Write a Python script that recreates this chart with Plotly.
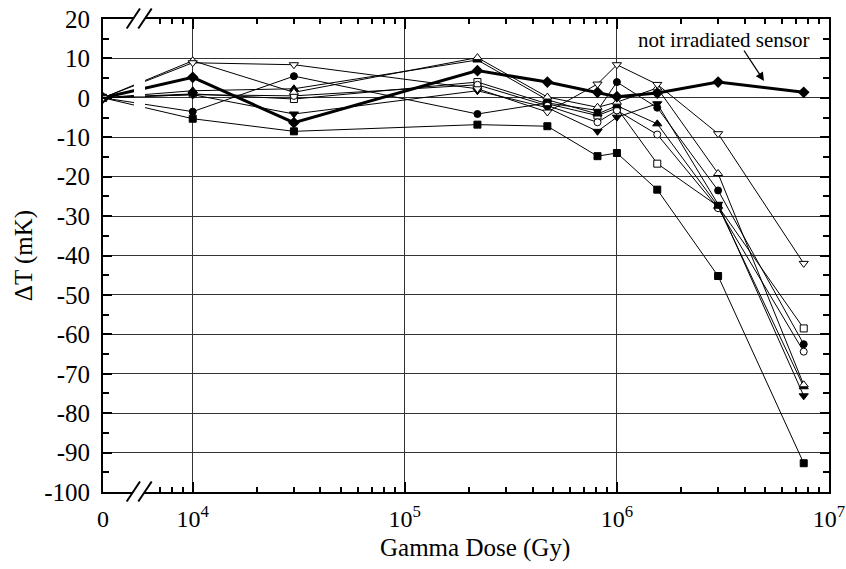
import plotly.graph_objects as go

# ---------------- data ----------------
doses = [0, 1e4, 3e4, 2.2e5, 4.7e5, 8.1e5, 1e6, 1.55e6, 3e6, 7.6e6]

s_sq_filled   = [0, -5.3, -8.5, -6.8, -7.2, -14.8, -14.0, -23.3, -45.2, -92.7]
s_sq_open     = [0, 1.0, -0.3, 4.0, -1.5, -4.5, -2.6, -16.7, -27.5, -58.5]
s_ci_filled   = [0, -3.5, 5.5, -4.1, -1.3, -3.2, 4.0, -2.5, -23.5, -62.5]
s_ci_open     = [0, 0.8, 0.5, 3.3, -2.0, -6.2, -3.2, -9.3, -28.0, -64.4]
s_up_filled   = [0, 1.8, 2.3, 9.6, -0.5, -4.1, -2.0, -6.6, -27.5, -73.3]
s_up_open     = [0, 9.4, 1.4, 10.2, 0.2, -2.4, -1.1, 2.5, -19.2, -72.8]
s_dn_filled   = [0, 0.8, -4.1, 1.8, -2.5, -8.5, -4.9, -1.5, -27.0, -75.6]
s_dn_open     = [0, 8.9, 8.4, 2.3, -3.6, 3.5, 8.4, 3.4, -9.1, -42.0]
s_reference   = [0, 5.2, -6.3, 6.9, 4.0, 1.4, 0.3, 1.2, 4.0, 1.4]

x_tick_labels = ["0", "10<sup>4</sup>", "10<sup>5</sup>", "10<sup>6</sup>", "10<sup>7</sup>"]
x_tick_doses = [0, 1e4, 1e5, 1e6, 1e7]
y_tick_values = [20, 10, 0, -10, -20, -30, -40, -50, -60, -70, -80, -90, -100]
y_tick_labels = ["20", "10", "0", "-10", "-20", "-30", "-40", "-50", "-60",
                 "-70", "-80", "-90", "-100"]

# axis position used to draw dose "0" left of the axis break
ZERO_POS = 10 ** 3.577
LOG_MAX = 7.0

def xpos(d):
    return ZERO_POS if d == 0 else d

X = [xpos(d) for d in doses]

FONT = "Liberation Serif"
fig = go.Figure()

series = [
    (s_sq_filled, "square", "black"),
    (s_sq_open, "square", "white"),
    (s_ci_filled, "circle", "black"),
    (s_ci_open, "circle", "white"),
    (s_up_filled, "triangle-up", "black"),
    (s_up_open, "triangle-up", "white"),
    (s_dn_filled, "triangle-down", "black"),
]
for vals, sym, fill in series:
    size = 8 if "triangle" in sym else 7
    fig.add_trace(go.Scatter(
        x=X, y=vals, mode="lines+markers",
        line=dict(color="black", width=1),
        marker=dict(symbol=sym, size=size, color=fill,
                    line=dict(color="black", width=1)),
        showlegend=False,
    ))

fig.add_trace(go.Scatter(
    x=X, y=s_reference, mode="lines+markers",
    line=dict(color="black", width=3),
    marker=dict(symbol="diamond", size=9, color="black"),
    showlegend=False,
))
fig.add_trace(go.Scatter(
    x=X, y=s_dn_open, mode="lines+markers",
    line=dict(color="black", width=1),
    marker=dict(symbol="triangle-down", size=8, color="white",
                line=dict(color="black", width=1)),
    showlegend=False,
))

minor_vals = [m * 10 ** e for e in range(3, 7) for m in range(2, 10)
              if m * 10 ** e > 6.5e3]

fig.update_xaxes(
    type="log",
    range=[3.577, LOG_MAX],
    automargin=False,
    tickmode="array",
    tickvals=[xpos(d) for d in x_tick_doses],
    ticktext=x_tick_labels,
    ticks="inside", ticklen=10, tickwidth=1.5, tickcolor="black",
    showline=True, linecolor="black", linewidth=2, mirror="allticks",
    showgrid=True, gridcolor="#333", gridwidth=1,
    minor=dict(tickmode="array", tickvals=minor_vals, ticks="inside",
               ticklen=5, tickwidth=1.5, tickcolor="black", showgrid=False),
    tickfont=dict(family=FONT, size=24, color="black"),
    ticklabelstandoff=4,
    zeroline=False,
)
fig.update_yaxes(
    range=[-100, 20],
    automargin=False,
    tickmode="array", tickvals=y_tick_values, ticktext=y_tick_labels,
    ticks="inside", ticklen=9, tickwidth=1.5, tickcolor="black",
    showline=True, linecolor="black", linewidth=2, mirror="allticks",
    showgrid=True, gridcolor="#333", gridwidth=1,
    minor=dict(dtick=5, ticks="inside", ticklen=6, tickwidth=1.5,
               tickcolor="black", showgrid=False),
    tickfont=dict(family=FONT, size=25, color="black"),
    ticklabelstandoff=6,
    title=dict(text="ΔT (mK)", font=dict(family=FONT, size=25, color="black"),
               standoff=4),
    zeroline=False,
)

L, R, T, B = 103, 17, 19, 77
W, H = 846, 569
pw, ph = W - L - R, H - T - B

def px(xp):
    return (xp - L) / pw

def py(yp):
    return (H - B - yp) / ph

shapes = []
# gap in data lines at the axis break (between gridlines)
for y0, y1 in [(-5, -0.35), (0.35, 7)]:
    shapes.append(dict(type="rect", xref="paper", yref="y",
                       x0=px(134), x1=px(145), y0=y0, y1=y1,
                       fillcolor="white", line=dict(width=0), layer="above"))
# break marks on top and bottom axes
for ybase in (T, H - B):
    ya, yb = ybase + 9.5, ybase - 10.5
    poly = "M {} {} L {} {} L {} {} L {} {} Z".format(
        px(127.5), py(ya), px(140.5), py(yb), px(151.5), py(yb), px(138.5), py(ya))
    shapes.append(dict(type="path", xref="paper", yref="paper", path=poly,
                       fillcolor="white", line=dict(width=0), layer="above"))
    for xa, xb in [(126.7, 140.0), (138.3, 151.7)]:
        shapes.append(dict(type="line", xref="paper", yref="paper",
                           x0=px(xa), y0=py(ya), x1=px(xb), y1=py(yb),
                           line=dict(color="black", width=2), layer="above"))

annotations = [
    dict(xref="paper", yref="paper", x=px(475), y=py(548),
         text="Gamma Dose (Gy)", showarrow=False,
         font=dict(family=FONT, size=25, color="black"),
         xanchor="center", yanchor="middle"),
    dict(xref="paper", yref="paper", x=px(723), y=py(40),
         text="not irradiated sensor", showarrow=False,
         font=dict(family=FONT, size=21, color="black"),
         xanchor="center", yanchor="middle"),
    dict(xref="paper", yref="paper", x=px(764), y=py(81),
         text="", showarrow=True, arrowhead=2, arrowsize=1.3, arrowwidth=1.3,
         arrowcolor="black", ax=-21, ay=-32, axref="pixel", ayref="pixel",
         standoff=0),
]

fig.update_layout(
    width=W, height=H,
    margin=dict(l=L, r=R, t=T, b=B),
    paper_bgcolor="white", plot_bgcolor="white",
    shapes=shapes, annotations=annotations,
    font=dict(family=FONT, color="black"),
)

fig.write_html("out.html")
